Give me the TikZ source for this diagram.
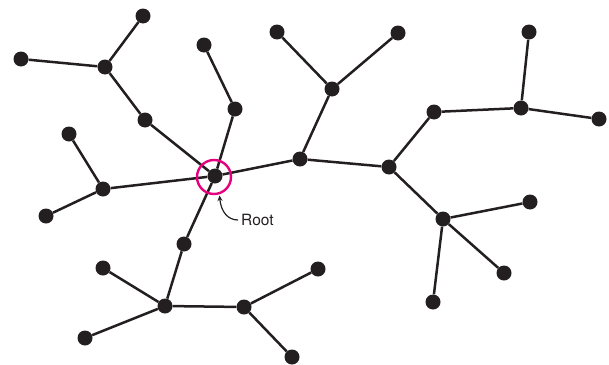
\documentclass[tikz,border=0pt]{standalone}
\usepackage{fontspec}
\setmainfont{TeX Gyre Heros}
\usetikzlibrary{arrows.meta}
\definecolor{nodeblack}{RGB}{35,31,32}
\definecolor{rootpink}{RGB}{230,0,126}
\tikzset{
  dot/.style={circle,fill=nodeblack,inner sep=0pt,minimum size=15pt},
  edge/.style={draw=nodeblack,line width=2.5pt},
  rootring/.style={circle,draw=rootpink,line width=2.4pt,minimum size=34pt,inner sep=0pt},
  lbl/.style={font=\fontsize{15.5}{17}\selectfont,inner sep=0pt,text=nodeblack}
}
\begin{document}
\begin{tikzpicture}[x=1pt,y=-1pt]
\useasboundingbox (0,0) rectangle (609,364);
% edges first (coordinates), then nodes on top
\node[dot] (R) at (215,176) {};
\node[dot] (A1) at (143,16) {};
\node[dot] (A2) at (105,67) {};
\node[dot] (A3) at (21,59) {};
\node[dot] (A4) at (145,120) {};
\node[dot] (B1) at (204,45) {};
\node[dot] (B2) at (235,109) {};
\node[dot] (C1) at (69,134) {};
\node[dot] (C2) at (103,189) {};
\node[dot] (C3) at (46,216) {};
\node[dot] (D1) at (184,244) {};
\node[dot] (D2) at (165,306) {};
\node[dot] (D3) at (103,268) {};
\node[dot] (D4) at (85,338) {};
\node[dot] (D5) at (244,307) {};
\node[dot] (D6) at (318,269) {};
\node[dot] (D7) at (292,357) {};
\node[dot] (E1) at (300,159) {};
\node[dot] (E2) at (332,89) {};
\node[dot] (E3) at (277,32) {};
\node[dot] (E4) at (398,33) {};
\node[dot] (F1) at (389,167) {};
\node[dot] (F2) at (434,112) {};
\node[dot] (F3) at (521,108) {};
\node[dot] (F4) at (529,32) {};
\node[dot] (F5) at (599,119) {};
\node[dot] (G1) at (443,219) {};
\node[dot] (G2) at (530,202) {};
\node[dot] (G3) at (504,273) {};
\node[dot] (G4) at (433,302) {};
\path[edge] (A1) -- (A2) (A3) -- (A2) (A2) -- (A4) (A4) -- (R)
  (B1) -- (B2) (B2) -- (R)
  (C1) -- (C2) (C3) -- (C2) (C2) -- (R)
  (R) -- (D1) (D1) -- (D2) (D2) -- (D3) (D2) -- (D4) (D2) -- (D5) (D5) -- (D6) (D5) -- (D7)
  (R) -- (E1) (E1) -- (E2) (E2) -- (E3) (E2) -- (E4)
  (E1) -- (F1) (F1) -- (F2) (F2) -- (F3) (F3) -- (F4) (F3) -- (F5)
  (F1) -- (G1) (G1) -- (G2) (G1) -- (G3) (G1) -- (G4);
% root marker
\node[rootring] (ring) at (214,177) {};
\node[lbl,anchor=west] (rootlbl) at (241,220) {Root};
\coordinate (tip) at (219.5,195.5);
\draw[line width=1.2pt,draw=nodeblack,-{Stealth[length=5.5pt,width=5pt]}]
  ([xshift=-3pt]rootlbl.west) .. controls (228,220) and (221,212) .. (tip);
\end{tikzpicture}
\end{document}
